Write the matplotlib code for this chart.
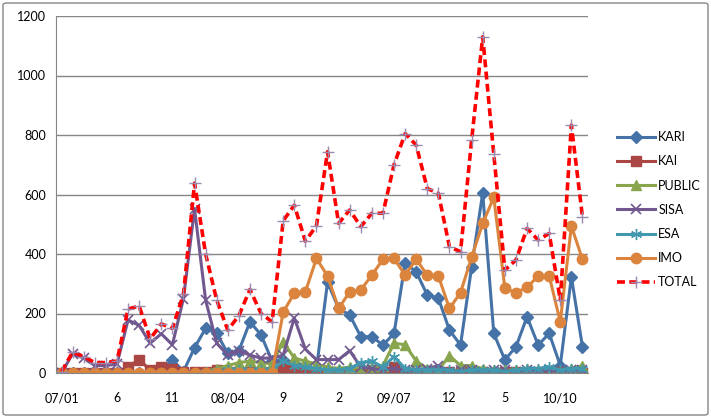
import numpy as np
import matplotlib
matplotlib.use("Agg")
import matplotlib.pyplot as plt
from matplotlib.patches import FancyBboxPatch

plt.rcParams['font.family'] = ['Lato', 'DejaVu Sans']

# monthly, 2007/01 .. 2010/12
tick_pos = [0, 5, 10, 15, 20, 25, 30, 35, 40, 45]
tick_labels = ['07/01', '6', '11', '08/04', '9', '2', '09/07', '12', '5', '10/10']

kari = [0, 0, 0, 0, 0, 0, 0, 0, 0, 5, 45, 5, 85, 150, 133, 66, 75, 172, 128, 40,
        45, 35, 25, 15, 305, 217, 195, 122, 122, 94, 133, 369, 340, 262, 251, 144,
        94, 357, 605, 133, 44, 88, 189, 94, 133, 25, 323, 88]
kai = [0, 0, 0, 0, 0, 0, 20, 45, 10, 20, 15, 5, 5, 5, 10, 5, 5, 5, 5, 5,
       20, 15, 5, 5, 5, 5, 5, 5, 10, 5, 20, 5, 0, 0, 0, 5,
       5, 5, 5, 0, 5, 5, 0, 5, 5, 5, 5, 0]
public = [0, 0, 0, 0, 0, 0, 0, 0, 0, 0, 0, 0, 0, 5, 15, 25, 35, 40, 35, 30,
          105, 50, 40, 30, 20, 15, 20, 15, 20, 25, 100, 95, 40, 15, 10, 58,
          25, 25, 15, 10, 10, 10, 15, 10, 10, 5, 15, 25]
sisa = [0, 65, 50, 25, 25, 30, 178, 160, 100, 132, 95, 250, 552, 245, 100, 60, 75, 60, 50, 50,
        60, 185, 80, 45, 45, 45, 75, 20, 15, 10, 15, 10, 10, 15, 25, 5,
        10, 10, 5, 10, 10, 5, 10, 5, 10, 5, 10, 10]
esa = [0, 0, 0, 0, 0, 0, 0, 0, 0, 0, 0, 0, 0, 5, 5, 10, 10, 10, 10, 10,
       40, 25, 20, 15, 10, 10, 15, 35, 40, 20, 55, 15, 10, 10, 10, 10,
       5, 10, 10, 10, 5, 10, 15, 15, 20, 10, 15, 15]
imo = [0, 0, 0, 0, 0, 0, 0, 0, 0, 0, 0, 0, 0, 0, 0, 0, 0, 0, 0, 0,
       205, 268, 273, 385, 326, 217, 273, 279, 329, 382, 385, 329, 382, 329, 326, 217,
       270, 389, 503, 590, 285, 270, 288, 326, 326, 172, 494, 382]
total = [5, 70, 55, 35, 35, 40, 215, 225, 115, 165, 150, 265, 638, 400, 245, 144, 193, 281, 200, 172,
         512, 564, 443, 495, 744, 503, 548, 492, 537, 537, 700, 805, 766, 620, 604, 424,
         408, 783, 1130, 735, 346, 380, 486, 447, 469, 245, 833, 525]

x = np.arange(len(total))

fig = plt.figure(figsize=(7.11, 4.18), dpi=100)
ax = fig.add_axes([56/711, 1 - 373/418, 532/711, 357/418])

lw = 2.2
ax.plot(x, kari, color='#4572A7', lw=lw, marker='D', ms=6, label='KARI')
ax.plot(x, kai, color='#AA4643', lw=lw, marker='s', ms=7, label='KAI')
ax.plot(x, public, color='#89A54E', lw=lw, marker='^', ms=7, label='PUBLIC')
ax.plot(x, sisa, color='#71588F', lw=lw, marker='x', ms=7, mew=1.2, label='SISA')
ax.plot(x, esa, color='#4198AF', lw=lw, marker=(6, 2, 0), ms=8, mew=1.0, label='ESA')
ax.plot(x, imo, color='#DB843D', lw=lw, marker='o', ms=7.5, label='IMO')
ax.plot(x, total, color='#FF0000', lw=2.6, ls=(0, (2.2, 1.2)), marker='+', ms=9,
        mec='#9A8AB0', mew=1.0, label='TOTAL')

ax.set_xlim(-0.5, 47.5)
ax.set_ylim(0, 1200)
ax.set_yticks(range(0, 1201, 200))
ax.set_xticks(tick_pos)
ax.set_xticklabels(tick_labels)
ax.tick_params(length=0, labelsize=9, colors='black')
ax.tick_params(axis='y', pad=7)
ax.tick_params(axis='x', pad=14)
ax.grid(axis='y', color='#868686', lw=1)
ax.set_axisbelow(True)
for s in ['top', 'right']:
    ax.spines[s].set_visible(False)
ax.spines['left'].set_color('#868686')
ax.spines['bottom'].set_color('#868686')

ax.legend(loc='upper left', bbox_to_anchor=(612/711, 1 - 126/418), bbox_transform=fig.transFigure,
          frameon=False, fontsize=9, handlelength=3.0, labelspacing=0.98, handletextpad=0.3,
          borderaxespad=0)

fig.patches.append(FancyBboxPatch((3/711, 3/418), 705/711, 412/418, boxstyle='round,pad=0,rounding_size=0.005',
                                  transform=fig.transFigure, fill=False, ec='#868686', lw=1))

fig.savefig('out.png', dpi=100)
